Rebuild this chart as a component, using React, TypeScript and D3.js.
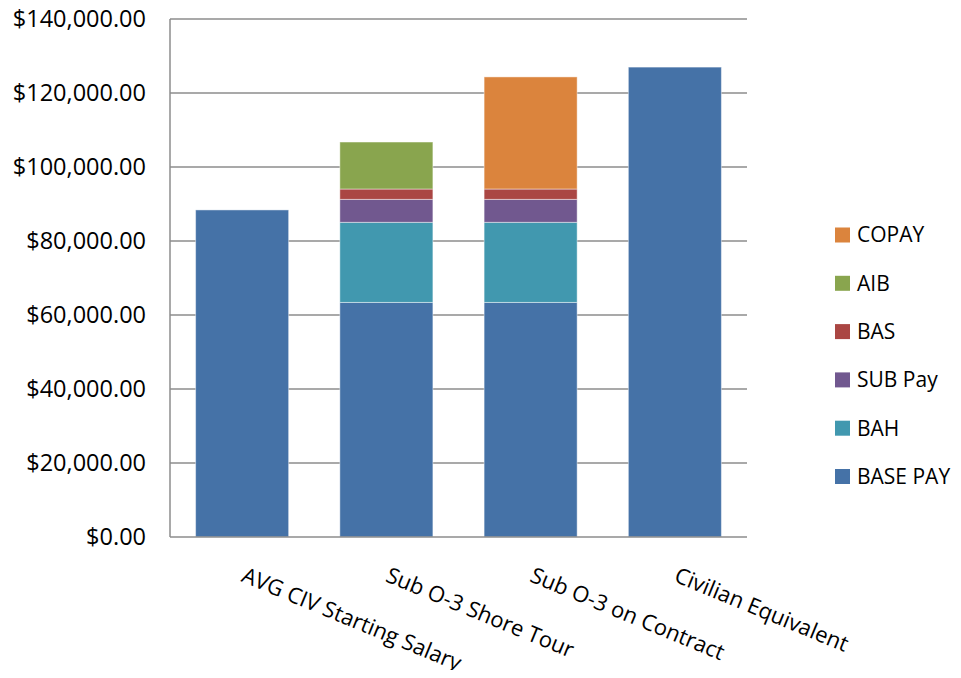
import { useEffect, useRef } from 'react';
import * as d3 from 'd3';

const categories = ['AVG CIV Starting Salary', 'Sub O-3 Shore Tour', 'Sub O-3 on Contract', 'Civilian Equivalent'];
const seriesNames = ['BASE PAY', 'BAH', 'SUB Pay', 'BAS', 'AIB', 'COPAY'];
const basePay = [88400, 63400, 63400, 127000];
const bah = [0, 21650, 21650, 0];
const subPay = [0, 6200, 6200, 0];
const bas = [0, 2800, 2800, 0];
const aib = [0, 12700, 0, 0];
const copay = [0, 0, 30300, 0];
const seriesColors = ['#4572A7', '#4198AF', '#71588F', '#AA4643', '#89A54E', '#DB843D'];
const yTicks = [0, 20000, 40000, 60000, 80000, 100000, 120000, 140000];

const W = 961;
const H = 678;
const FONT = "'Open Sans', 'Liberation Sans', sans-serif";

export default function App() {
  const svgRef = useRef<SVGSVGElement>(null);

  useEffect(() => {
    if (!svgRef.current) return;
    const svg = d3.select(svgRef.current);
    svg.selectAll('*').remove();

    const left = 170, right = 747, top = 19, bottom = 537;
    const values = [basePay, bah, subPay, bas, aib, copay];
    const rows = categories.map((c, i) => {
      const r: any = { cat: c };
      seriesNames.forEach((s, k) => (r[s] = values[k][i]));
      return r;
    });

    const x = d3.scaleBand().domain(categories).range([left, right]).paddingInner(0.355).paddingOuter(0.1775);
    const y = d3.scaleLinear().domain([0, 140000]).range([bottom, top]);
    const color = d3.scaleOrdinal<string, string>().domain(seriesNames).range(seriesColors);
    const stacked = d3.stack().keys(seriesNames)(rows);

    // gridlines
    svg.append('g')
      .selectAll('line')
      .data(yTicks.filter((t) => t > 0))
      .join('line')
      .attr('x1', left)
      .attr('x2', right)
      .attr('y1', (d) => y(d))
      .attr('y2', (d) => y(d))
      .attr('stroke', '#8c8c8c')
      .attr('stroke-width', 1.5);

    // bars
    svg.append('g')
      .selectAll('g')
      .data(stacked)
      .join('g')
      .attr('fill', (d) => color(d.key))
      .selectAll('rect')
      .data((d) => d.filter((p) => p[1] - p[0] > 0))
      .join('rect')
      .attr('x', (d: any) => x(d.data.cat)!)
      .attr('width', x.bandwidth())
      .attr('y', (d) => y(d[1]))
      .attr('height', (d) => y(d[0]) - y(d[1]))
      .attr('stroke', 'rgba(255,255,255,0.45)')
      .attr('stroke-width', 1);

    // axes lines
    svg.append('line')
      .attr('x1', left).attr('x2', left).attr('y1', top).attr('y2', bottom)
      .attr('stroke', '#8c8c8c').attr('stroke-width', 1.5);
    svg.append('line')
      .attr('x1', left).attr('x2', right).attr('y1', bottom).attr('y2', bottom)
      .attr('stroke', '#8c8c8c').attr('stroke-width', 1.5);

    const fmt = d3.format('$,.2f');
    svg.append('g')
      .selectAll('text')
      .data(yTicks)
      .join('text')
      .attr('x', 146)
      .attr('y', (d) => y(d))
      .attr('dy', '0.35em')
      .attr('text-anchor', 'end')
      .attr('font-family', FONT)
      .attr('font-size', 23.5)
      .attr('fill', '#000')
      .text((d) => fmt(d));

    // x labels
    svg.append('g')
      .selectAll('text')
      .data(categories)
      .join('text')
      .attr('transform', (d) => `translate(${x(d)! + x.bandwidth() / 2 - 2},${581}) rotate(22.5)`)
      .attr('text-anchor', 'start')
      .attr('font-family', FONT)
      .attr('font-size', 22)
      .attr('fill', '#000')
      .text((d) => d);

    // legend
    const legendNames = [...seriesNames].reverse();
    const lg = svg.append('g')
      .selectAll('g')
      .data(legendNames)
      .join('g')
      .attr('transform', (_d, i) => `translate(835,${235 + i * 48.3})`);
    lg.append('rect')
      .attr('x', 0).attr('y', -7.5).attr('width', 15).attr('height', 15)
      .attr('fill', (d) => color(d));
    lg.append('text')
      .attr('x', 22)
      .attr('dy', '0.35em')
      .attr('font-family', FONT)
      .attr('font-size', 21)
      .attr('fill', '#000')
      .text((d) => d);
  }, []);

  return <svg ref={svgRef} width={W} height={H} style={{ display: 'block', margin: '-8px' }} />;
}
